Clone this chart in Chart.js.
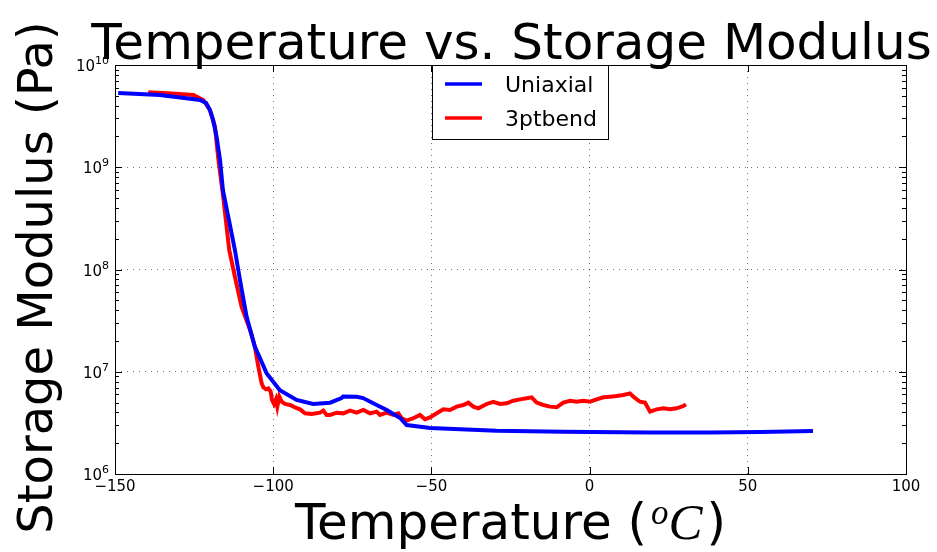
<!DOCTYPE html>
<html>
<head>
<meta charset="utf-8">
<script src="https://cdn.jsdelivr.net/npm/chart.js@4/dist/chart.umd.min.js"></script>
<style>
  html, body { margin: 0; padding: 0; background: #ffffff; }
  #wrap { width: 937px; height: 552px; }
</style>
</head>
<body>
<div id="wrap"><canvas id="chart" width="937" height="552"></canvas></div>
<script>
// Storage modulus (Pa) against temperature (°C) for two DMA test modes.
const uniaxialTemp = [-149.0, -135.8, -123.1, -121.2, -120.0, -119.0, -117.9, -116.8, -115.9, -114.0,
  -112.1, -110.5, -108.4, -105.8, -102.1, -97.9, -92.6, -87.4, -82.0, -78.4, -77.9, -73.6, -71.6,
  -66.2, -64.1, -59.9, -57.8, -50.4, -29.4, -8.4, 19.1, 38.1, 53.9, 70.6];
const uniaxialModulus = [5.32e9, 5.09e9, 4.55e9, 4.25e9, 3.63e9, 2.90e9, 1.99e9, 1.18e9, 6.0e8, 3.05e8,
  1.55e8, 7.9e7, 3.45e7, 1.76e7, 9.7e6, 6.6e6, 5.3e6, 4.84e6, 4.98e6, 5.53e6, 5.73e6, 5.70e6, 5.53e6,
  4.55e6, 4.23e6, 3.53e6, 3.01e6, 2.82e6, 2.65e6, 2.59e6, 2.55e6, 2.54e6, 2.58e6, 2.64e6];

const bendTemp = [-139.5, -132.0, -125.2, -122.1, -120.0, -118.4, -117.3, -115.8, -113.9, -112.1,
  -110.0, -107.3, -105.8, -104.7, -103.65, -103.12, -102.28, -101.54, -100.80, -100.38, -99.75, -99.12,
  -98.70, -98.07, -97.33, -96.27, -94.69, -93.11, -91.53, -89.95, -87.85, -85.21, -84.16, -83.10,
  -82.05, -79.94, -77.84, -75.73, -73.62, -71.51, -69.41, -67.30, -66.25, -64.14, -62.03, -60.45,
  -59.40, -57.82, -55.71, -53.61, -52.02, -50.45, -48.34, -46.23, -44.12, -42.02, -39.91, -38.33,
  -36.75, -35.17, -32.53, -30.43, -28.32, -26.21, -24.11, -22.00, -19.89, -18.31, -16.73, -14.63,
  -12.52, -10.41, -8.30, -6.20, -4.09, -1.98, 0.12, 2.23, 4.34, 6.44, 8.55, 10.66, 12.77, 13.82,
  15.93, 17.51, 19.09, 21.19, 23.30, 25.41, 27.51, 29.62, 30.46];
const bendModulus = [5.41e9, 5.25e9, 5.09e9, 4.55e9, 3.63e9, 2.49e9, 1.18e9, 5.15e8, 1.55e8, 8.5e7,
  4.33e7, 2.56e7, 1.76e7, 1.12e7, 7.71e6, 7.05e6, 6.74e6, 6.88e6, 6.39e6, 5.30e6, 4.84e6, 5.38e6,
  4.56e6, 5.71e6, 5.10e6, 4.84e6, 4.73e6, 4.49e6, 4.29e6, 3.93e6, 3.87e6, 3.98e6, 4.17e6, 3.78e6,
  3.78e6, 3.98e6, 3.92e6, 4.16e6, 3.98e6, 4.23e6, 3.92e6, 4.07e6, 3.78e6, 3.98e6, 3.78e6, 3.92e6,
  3.51e6, 3.33e6, 3.51e6, 3.78e6, 3.43e6, 3.58e6, 3.92e6, 4.29e6, 4.23e6, 4.56e6, 4.73e6, 4.99e6,
  4.56e6, 4.39e6, 4.84e6, 5.09e6, 4.84e6, 4.91e6, 5.21e6, 5.37e6, 5.50e6, 5.62e6, 4.99e6, 4.73e6,
  4.56e6, 4.49e6, 4.99e6, 5.21e6, 5.09e6, 5.21e6, 5.09e6, 5.37e6, 5.62e6, 5.70e6, 5.79e6, 5.93e6, 6.15e6, 5.70e6,
  5.09e6, 4.99e6, 4.07e6, 4.29e6, 4.39e6, 4.29e6, 4.39e6, 4.62e6, 4.80e6];

const seriesNames = ['Uniaxial', '3ptbend'];
const seriesColors = ['#0000ff', '#ff0000'];
const xTickValues = [-150, -100, -50, 0, 50, 100];
const yTickExponents = [6, 7, 8, 9, 10];
const chartTitle = 'Temperature vs. Storage Modulus';
const xAxisTitle = 'Temperature (';
const yAxisTitle = 'Storage Modulus (Pa)';

const SANS = '"DejaVu Sans", sans-serif';
const SERIF = '"Liberation Serif", "DejaVu Serif", serif';

function toPoints(xs, ys) {
  return xs.map((x, i) => ({ x: x, y: ys[i] }));
}

// Axis frame, inward ticks, labels, titles and legend, drawn over the plot.
const decorations = {
  id: 'decorations',
  afterDraw(chart) {
    const ctx = chart.ctx;
    const ca = chart.chartArea;
    const xs = chart.scales.x;
    const ys = chart.scales.y;
    ctx.save();

    // frame
    ctx.strokeStyle = '#000';
    ctx.lineWidth = 1;
    ctx.strokeRect(Math.round(ca.left) + 0.5, Math.round(ca.top) + 0.5,
      Math.round(ca.right - ca.left), Math.round(ca.bottom - ca.top));

    // x major ticks, top and bottom, pointing inward
    ctx.beginPath();
    xTickValues.forEach(v => {
      const px = Math.round(xs.getPixelForValue(v)) + 0.5;
      ctx.moveTo(px, ca.bottom); ctx.lineTo(px, ca.bottom - 7);
      ctx.moveTo(px, ca.top); ctx.lineTo(px, ca.top + 7);
    });
    // y major and minor ticks on both sides
    yTickExponents.forEach((e, i) => {
      const py = Math.round(ys.getPixelForValue(Math.pow(10, e))) + 0.5;
      ctx.moveTo(ca.left, py); ctx.lineTo(ca.left + 7, py);
      ctx.moveTo(ca.right, py); ctx.lineTo(ca.right - 7, py);
      if (i < yTickExponents.length - 1) {
        for (let m = 2; m <= 9; m++) {
          const my = Math.round(ys.getPixelForValue(m * Math.pow(10, e))) + 0.5;
          ctx.moveTo(ca.left, my); ctx.lineTo(ca.left + 4, my);
          ctx.moveTo(ca.right, my); ctx.lineTo(ca.right - 4, my);
        }
      }
    });
    ctx.stroke();

    // y tick labels: 10 with a raised exponent
    ctx.fillStyle = '#000';
    ctx.textBaseline = 'alphabetic';
    yTickExponents.forEach(e => {
      const py = ys.getPixelForValue(Math.pow(10, e));
      const exp = String(e);
      ctx.font = '11px ' + SANS;
      const ew = ctx.measureText(exp).width;
      const right = ca.left - 6;
      ctx.textAlign = 'left';
      ctx.fillText(exp, right - ew, py - 1);
      ctx.font = '15px ' + SANS;
      ctx.textAlign = 'right';
      ctx.fillText('10', right - ew, py + 6);
    });

    // chart title
    const cx = (ca.left + ca.right) / 2;
    ctx.font = '50px ' + SANS;
    ctx.textAlign = 'center';
    ctx.fillText(chartTitle, cx + 1, 59);

    // x axis title with a math-style (°C) unit
    ctx.textAlign = 'left';
    ctx.font = '50px ' + SANS;
    const w1 = ctx.measureText(xAxisTitle).width;
    const w4 = ctx.measureText(')').width;
    ctx.font = 'italic 35px ' + SERIF;
    const w2 = ctx.measureText('o').width + 4;
    ctx.font = 'italic 51px ' + SERIF;
    const w3 = ctx.measureText('C').width + 4;
    let x0 = cx - (w1 + w2 + w3 + w4) / 2;
    const base = 539;
    ctx.font = '50px ' + SANS;
    ctx.fillText(xAxisTitle, x0, base);
    ctx.font = 'italic 35px ' + SERIF;
    ctx.fillText('o', x0 + w1 + 4, base - 15);
    ctx.font = 'italic 51px ' + SERIF;
    ctx.fillText('C', x0 + w1 + w2, base);
    ctx.font = '50px ' + SANS;
    ctx.fillText(')', x0 + w1 + w2 + w3, base);

    // y axis title, rotated
    ctx.save();
    ctx.translate(52, (ca.top + ca.bottom) / 2 + 8);
    ctx.rotate(-Math.PI / 2);
    ctx.textAlign = 'center';
    ctx.font = '48px ' + SANS;
    ctx.fillText(yAxisTitle, 0, 0);
    ctx.restore();

    // legend box
    const lx = ca.left + 317, ly = ca.top, lw = 176, lh = 74;
    ctx.fillStyle = '#fff';
    ctx.fillRect(lx, ly, lw, lh);
    ctx.strokeStyle = '#000';
    ctx.lineWidth = 1;
    ctx.strokeRect(lx + 0.5, ly + 0.5, lw, lh);
    ctx.font = '22px ' + SANS;
    ctx.textAlign = 'left';
    seriesNames.forEach((name, i) => {
      const yy = ly + 19 + i * 34;
      ctx.strokeStyle = seriesColors[i];
      ctx.lineWidth = 3.5;
      ctx.beginPath();
      ctx.moveTo(lx + 13, yy); ctx.lineTo(lx + 50, yy);
      ctx.stroke();
      ctx.fillStyle = '#000';
      ctx.fillText(name, lx + 73, yy + 8);
    });

    ctx.restore();
  }
};

const gridOpts = { color: 'rgba(0,0,0,0.55)', lineWidth: 1, drawTicks: false };
const borderOpts = { display: false, dash: [1, 5] };

new Chart(document.getElementById('chart'), {
  type: 'line',
  data: {
    datasets: [
      { label: seriesNames[0], data: toPoints(uniaxialTemp, uniaxialModulus),
        borderColor: seriesColors[0], borderWidth: 4, pointRadius: 0, tension: 0, fill: false },
      { label: seriesNames[1], data: toPoints(bendTemp, bendModulus),
        borderColor: seriesColors[1], borderWidth: 4, pointRadius: 0, tension: 0, fill: false }
    ]
  },
  options: {
    responsive: false,
    animation: false,
    devicePixelRatio: 1,
    layout: { padding: { top: 65, right: 31, left: 0, bottom: 0 } },
    plugins: { legend: { display: false }, tooltip: { enabled: false }, title: { display: false } },
    scales: {
      x: {
        type: 'linear', min: -150, max: 100,
        afterBuildTicks: s => { s.ticks = xTickValues.map(v => ({ value: v })); },
        afterFit: s => { s.height = 78; },
        ticks: {
          color: '#000', font: { family: 'DejaVu Sans', size: 15 }, padding: 4,
          maxRotation: 0, autoSkip: false,
          callback: v => (v < 0 ? '\u2212' + Math.abs(v) : String(v))
        },
        grid: gridOpts,
        border: borderOpts
      },
      y: {
        type: 'logarithmic', min: 1e6, max: 1e10,
        afterBuildTicks: s => { s.ticks = yTickExponents.map(e => ({ value: Math.pow(10, e) })); },
        afterFit: s => { s.width = 115; },
        ticks: { display: false },
        grid: gridOpts,
        border: borderOpts
      }
    }
  },
  plugins: [decorations]
});
</script>
</body>
</html>
